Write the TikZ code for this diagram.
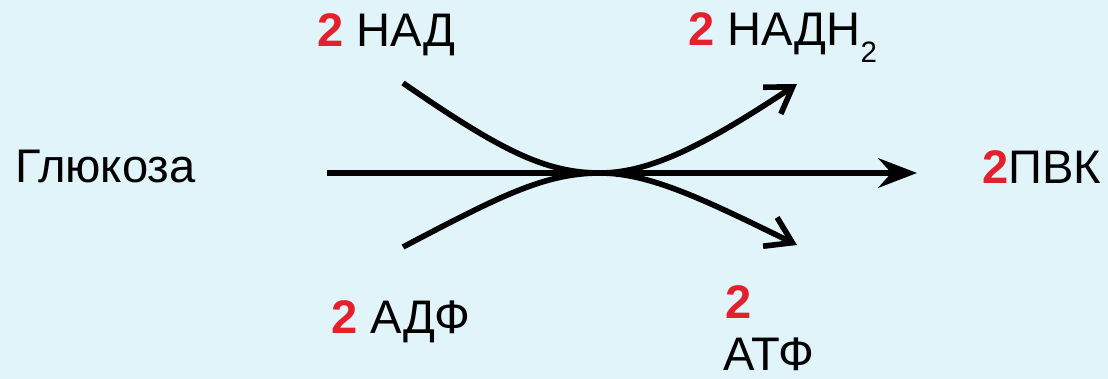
\documentclass[tikz,border=0pt]{standalone}
\usepackage{fontspec}
\setmainfont{Liberation Sans}
\usepackage{xcolor}
\usetikzlibrary{arrows.meta}
\definecolor{bgcyan}{HTML}{E1F4F9}
\definecolor{numred}{HTML}{E3202B}
\newcommand{\numtwo}{\textbf{\color{numred}2}}
\tikzset{
  lbl/.style={inner sep=0pt,anchor=base west,font=\fontsize{33.5}{40}\selectfont},
  arr/.style={line width=4pt,-{Stealth[length=0.97cm,width=0.74cm,inset=0.33cm]}},
  barb/.style={line width=4pt,-{Straight Barb[length=0.62cm,width=0.8cm]}},
}

\begin{document}
\begin{tikzpicture}[x=0.025cm,y=-0.025cm]
\fill[bgcyan] (0,0) rectangle (1108,379);
\useasboundingbox (0,0) rectangle (1108,379);

% substrates and products
\node[lbl] (glu) at (15,183) {Глюкоза};
\node[lbl] (pvk) at (982,184) {\numtwo ПВК};
\node[lbl] (nad) at (317,47) {\numtwo\ НАД};
\node[lbl] (nadh) at (688,46) {\numtwo\ НАДН\raisebox{-0.34em}{\fontsize{21}{21}\selectfont 2}};
\node[lbl] (adp) at (331,333) {\numtwo\ АДФ};
\node[lbl] (atpn) at (725,318) {\numtwo};
\node[lbl] (atp) at (723,370) {АТФ};

% arrow ends
\coordinate (s) at (327,173);
\coordinate (e) at (917,173);
\coordinate (mid) at (600,173);
\coordinate (nadin) at (403,83);
\coordinate (nadout) at (797,84);
\coordinate (adpin) at (403,247);
\coordinate (atpout) at (797,245);

% main arrow
\draw[arr] (s) -- (e);

% coupled arrows
\draw[barb] (nadin) .. controls (500,150) and (545,173) .. (mid)
  .. controls (650,173) and (705,145) .. (nadout);
\draw[barb] (adpin) .. controls (500,196) and (545,173) .. (mid)
  .. controls (650,173) and (705,200) .. (atpout);
\end{tikzpicture}
\end{document}
